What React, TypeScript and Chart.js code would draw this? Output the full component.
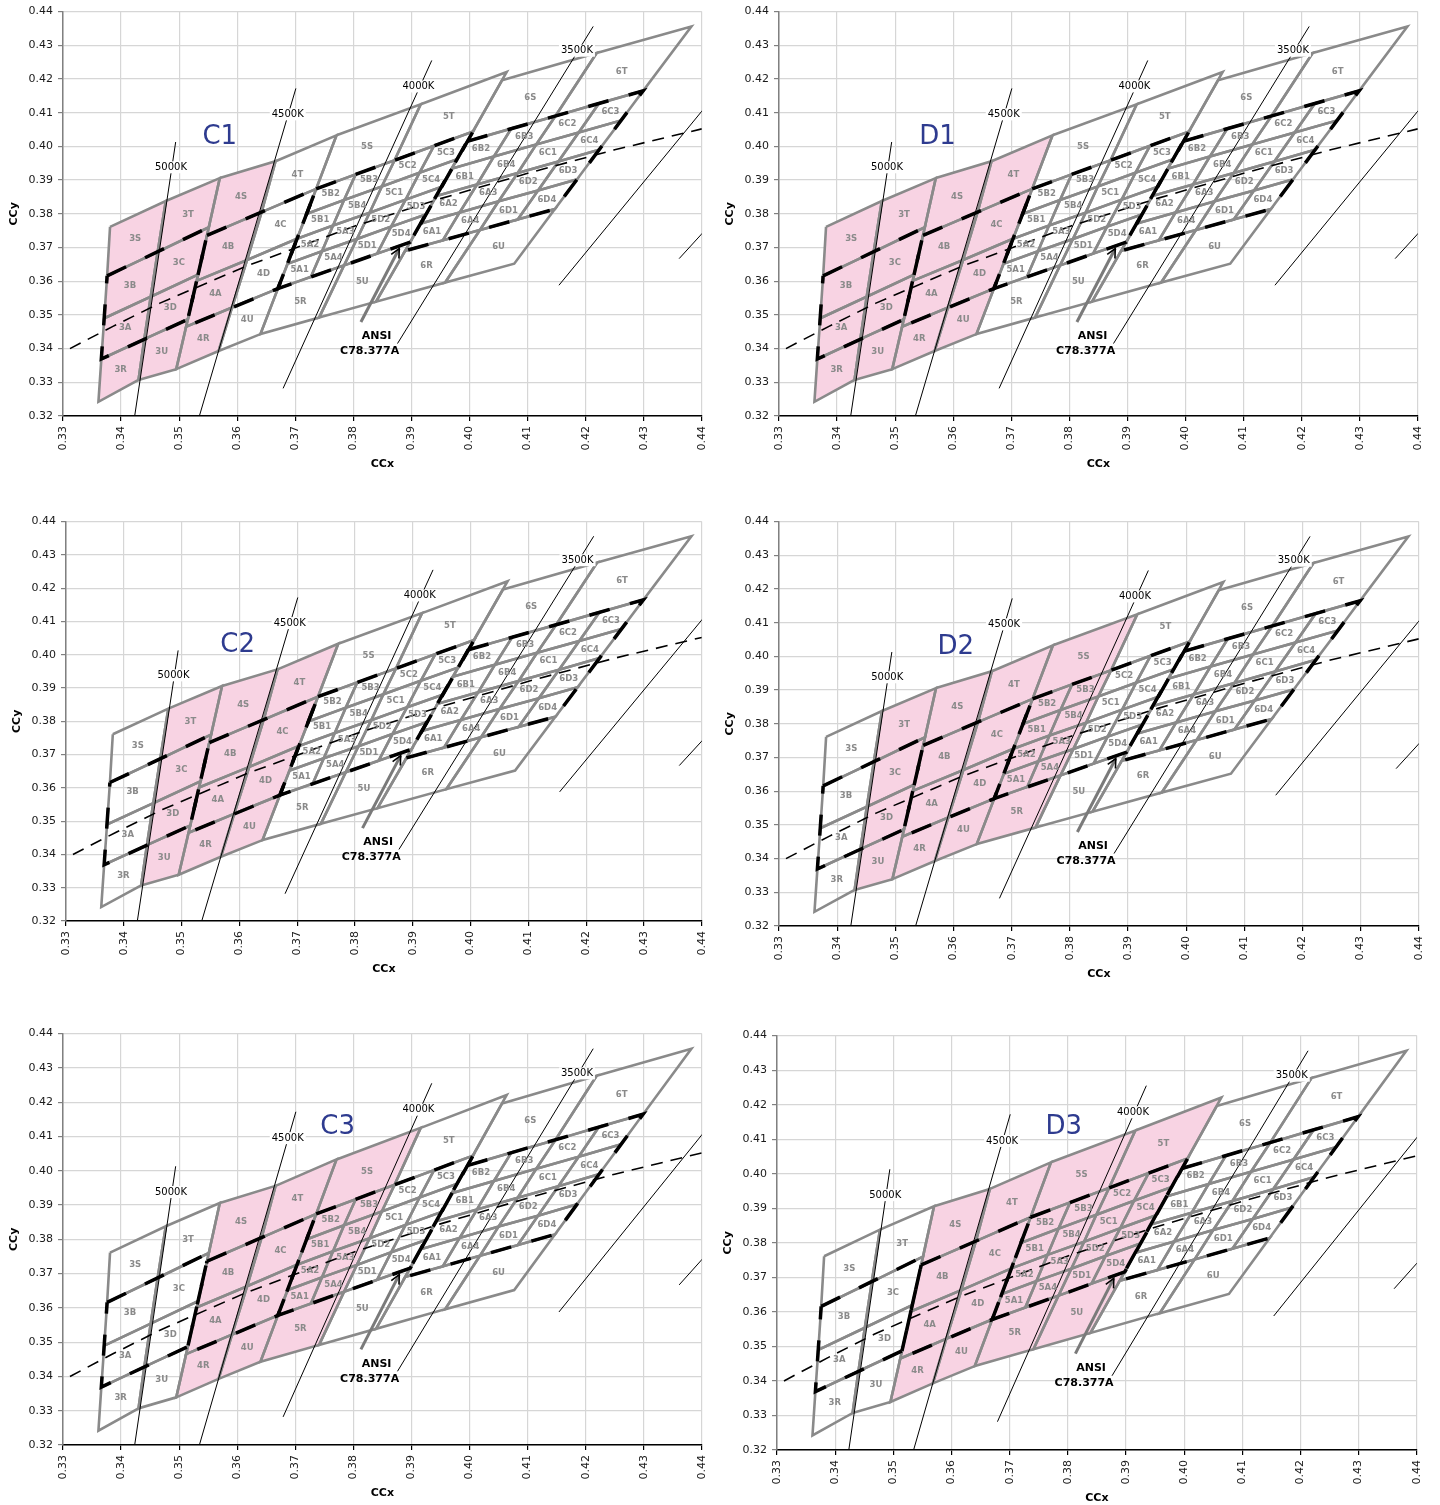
import React, { useEffect, useRef } from 'react';
import { Chart, registerables } from 'chart.js';

Chart.register(...registerables);

type P = [number, number];

const X_RANGE: P = [0.33, 0.44];
const Y_RANGE: P = [0.32, 0.44];
const TICK_STEP = 0.01;

// 5000K family (group 3): rows top->bottom, cols left->right
const G3_GRID: P[][] = [
  [[0.3381, 0.3761], [0.3477, 0.3838], [0.3570, 0.3906]],
  [[0.3376, 0.3616], [0.3463, 0.3687], [0.3551, 0.3760]],
  [[0.3371, 0.3490], [0.3451, 0.3554], [0.3533, 0.3620]],
  [[0.3366, 0.3369], [0.3440, 0.3428], [0.3515, 0.3487]],
  [[0.3361, 0.3242], [0.3430, 0.3307], [0.3495, 0.3339]],
];
const G3_LABELS = [['3S', '3T'], ['3B', '3C'], ['3A', '3D'], ['3R', '3U']];

// 4500K family (group 4)
const G4_GRID: P[][] = [
  [[0.3570, 0.3906], [0.3666, 0.3956], [0.3771, 0.4033]],
  [[0.3548, 0.3736], [0.3642, 0.3805], [0.3736, 0.3874]],
  [[0.3530, 0.3601], [0.3617, 0.3663], [0.3703, 0.3726]],
  [[0.3512, 0.3465], [0.3591, 0.3522], [0.3670, 0.3578]],
  [[0.3495, 0.3339], [0.3568, 0.3393], [0.3640, 0.3443]],
];
const G4_LABELS = [['4S', '4T'], ['4B', '4C'], ['4A', '4D'], ['4R', '4U']];

// 4000K family (group 5)
const G5_GRID: P[][] = [
  [[0.3736, 0.3874], [0.3804, 0.3917], [0.3871, 0.3959], [0.3939, 0.4002], [0.4006, 0.4044]],
  [[0.3720, 0.3800], [0.3784, 0.3841], [0.3849, 0.3881], [0.3914, 0.3922], [0.3979, 0.3962]],
  [[0.3703, 0.3726], [0.3765, 0.3765], [0.3828, 0.3803], [0.3890, 0.3842], [0.3952, 0.3880]],
  [[0.3687, 0.3652], [0.3746, 0.3689], [0.3806, 0.3725], [0.3865, 0.3762], [0.3925, 0.3798]],
  [[0.3670, 0.3578], [0.3727, 0.3613], [0.3784, 0.3647], [0.3841, 0.3682], [0.3898, 0.3716]],
];
const G5_LABELS = [
  ['5B2', '5B3', '5C2', '5C3'],
  ['5B1', '5B4', '5C1', '5C4'],
  ['5A2', '5A3', '5D2', '5D3'],
  ['5A1', '5A4', '5D1', '5D4'],
];
const G5_TOP: P[] = [[0.3771, 0.4033], [0.3916, 0.4125], [0.4064, 0.4221]];
const G5_BOTTOM: P[] = [[0.3640, 0.3443], [0.3741, 0.3492], [0.3839, 0.3539]];
const G5_OUTER_LABELS = [['5S', '5T'], ['5R', '5U']];

// 3500K family (group 6)
const G6_GRID: P[][] = [
  [[0.3996, 0.4015], [0.4072, 0.4053], [0.4148, 0.4090], [0.4223, 0.4128], [0.4299, 0.4165]],
  [[0.3969, 0.3934], [0.4042, 0.3970], [0.4115, 0.4006], [0.4188, 0.4041], [0.4261, 0.4077]],
  [[0.3943, 0.3853], [0.4013, 0.3887], [0.4083, 0.3921], [0.4153, 0.3955], [0.4223, 0.3990]],
  [[0.3916, 0.3771], [0.3983, 0.3804], [0.4050, 0.3837], [0.4118, 0.3869], [0.4185, 0.3902]],
  [[0.3889, 0.3690], [0.3954, 0.3721], [0.4018, 0.3752], [0.4083, 0.3783], [0.4147, 0.3814]],
];
const G6_LABELS = [
  ['6B2', '6B3', '6C2', '6C3'],
  ['6B1', '6B4', '6C1', '6C4'],
  ['6A2', '6A3', '6D2', '6D3'],
  ['6A1', '6A4', '6D1', '6D4'],
];
const G6_TOP: P[] = [[0.4056, 0.4196], [0.4219, 0.4277], [0.4382, 0.4356]];
const G6_BOTTOM: P[] = [[0.3839, 0.3539], [0.3958, 0.3596], [0.4077, 0.3652]];
const G6_OUTER_LABELS = [['6S', '6T'], ['6R', '6U']];

// ANSI C78.377A quadrangles
const ANSI_5000K: P[] = [[0.3376, 0.3616], [0.3551, 0.3760], [0.3515, 0.3487], [0.3366, 0.3369]];
const ANSI_4500K: P[] = [[0.3548, 0.3736], [0.3736, 0.3874], [0.3670, 0.3578], [0.3512, 0.3465]];
const ANSI_4000K: P[] = [[0.3736, 0.3874], [0.4006, 0.4044], [0.3898, 0.3716], [0.3670, 0.3578]];
const ANSI_3500K: P[] = [[0.3996, 0.4015], [0.4299, 0.4165], [0.4147, 0.3814], [0.3889, 0.3690]];

// black body locus (dashed)
const LOCUS: P[] = [
  [0.3312, 0.3400], [0.3386, 0.3466], [0.3467, 0.3535], [0.3616, 0.3645],
  [0.3805, 0.3765], [0.3950, 0.3845], [0.4110, 0.3925], [0.4250, 0.3990], [0.4400, 0.4052],
];

// isotherm lines
const ISO_5000K: P[] = [[0.3423, 0.3195], [0.3494, 0.4013]];
const ISO_4500K: P[] = [[0.3534, 0.3195], [0.3701, 0.4172]];
const ISO_4000K: P[] = [[0.3679, 0.3282], [0.3935, 0.4255]];
const ISO_3500K: P[] = [[0.3876, 0.3415], [0.4213, 0.4356]];
const ISO_3000K: P[] = [[0.4154, 0.3588], [0.4405, 0.4115]];
const ISO_2700K: P[] = [[0.4361, 0.3667], [0.4405, 0.3750]];
const ISO_LABELS = ['5000K', '4500K', '4000K', '3500K'];
const ISO_LABEL_AT: P[] = [[0.3486, 0.3938], [0.3687, 0.4095], [0.3912, 0.4178], [0.4185, 0.4284]];

const ANSI_ARROW: P[] = [[0.3813, 0.3479], [0.3879, 0.3697]];
const ANSI_TEXT = ['ANSI', 'C78.377A'];
const ANSI_TEXT_AT: P[] = [[0.3840, 0.3437], [0.3828, 0.3393]];

const PANEL_TITLES = ['C1', 'D1', 'C2', 'D2', 'C3', 'D3'];
const PANEL_TITLE_AT: P[] = [
  [0.3570, 0.4027], [0.3573, 0.4027], [0.3597, 0.4028],
  [0.3604, 0.4027], [0.3773, 0.4126], [0.3793, 0.4134],
];

const ALL4 = ['4S', '4T', '4B', '4C', '4A', '4D', '4R', '4U'];
const LEFT5 = ['5S', '5R', '5B2', '5B3', '5B1', '5B4', '5A2', '5A3', '5A1', '5A4'];
const RIGHT5 = ['5T', '5U', '5C2', '5C3', '5C1', '5C4', '5D2', '5D3', '5D1', '5D4'];
const RIGHT3 = ['3T', '3C', '3D', '3U'];
const LEFT3 = ['3S', '3B', '3A', '3R'];
const PANEL_HIGHLIGHTS: string[][] = [
  [...LEFT3, ...RIGHT3, '4S', '4B', '4A', '4R'],
  [...LEFT3, ...RIGHT3, ...ALL4],
  [...RIGHT3, ...ALL4],
  [...RIGHT3, ...ALL4, ...LEFT5],
  [...ALL4, ...LEFT5],
  [...ALL4, ...LEFT5, ...RIGHT5],
];

// plot-area boxes on the page: left, top, width, height
const PANEL_BOXES = [
  [63, 11, 640, 405], [779, 11, 640, 405],
  [66, 521, 637, 400], [779, 521, 641, 405],
  [63, 1033, 640, 412], [777, 1035, 641, 415],
];

const Y_AXIS_W = 63;
const X_AXIS_H = 62;
const PAD_TOP = 11;
const PAD_RIGHT = 17;

type Bin = { name: string; pts: P[] };

function buildBins(): Bin[] {
  const bins: Bin[] = [];
  const fromGrid = (grid: P[][], labels: string[][]) => {
    for (let r = 0; r < labels.length; r++)
      for (let c = 0; c < labels[r].length; c++)
        bins.push({ name: labels[r][c], pts: [grid[r][c], grid[r][c + 1], grid[r + 1][c + 1], grid[r + 1][c]] });
  };
  const pick = (row: P[]) => [row[0], row[2], row[4]];
  fromGrid(G3_GRID, G3_LABELS);
  fromGrid(G4_GRID, G4_LABELS);
  fromGrid([G5_TOP, pick(G5_GRID[0])], [G5_OUTER_LABELS[0]]);
  fromGrid(G5_GRID, G5_LABELS);
  fromGrid([pick(G5_GRID[4]), G5_BOTTOM], [G5_OUTER_LABELS[1]]);
  fromGrid([G6_TOP, pick(G6_GRID[0])], [G6_OUTER_LABELS[0]]);
  fromGrid(G6_GRID, G6_LABELS);
  fromGrid([pick(G6_GRID[4]), G6_BOTTOM], [G6_OUTER_LABELS[1]]);
  return bins;
}

const BINS = buildBins();
const FONT = '"DejaVu Sans", Verdana, sans-serif';

const toXY = (pts: P[]) => pts.map(([x, y]) => ({ x, y }));
const closed = (pts: P[]) => toXY([...pts, pts[0]]);

const overlayPlugin = {
  id: 'overlay',
  afterDatasetsDraw(chart: any, _args: any, opts: any) {
    const { ctx, chartArea, scales } = chart;
    const px = (v: number) => scales.x.getPixelForValue(v);
    const py = (v: number) => scales.y.getPixelForValue(v);
    ctx.save();
    ctx.textAlign = 'center';
    ctx.textBaseline = 'middle';

    // bin labels
    ctx.font = `bold 8.5px ${FONT}`;
    ctx.fillStyle = '#8a8a8a';
    BINS.forEach((b) => {
      const cx = b.pts.reduce((s, p) => s + p[0], 0) / b.pts.length;
      const cy = b.pts.reduce((s, p) => s + p[1], 0) / b.pts.length;
      ctx.fillText(b.name, px(cx), py(cy));
    });

    // arrow head
    const [a0, a1] = ANSI_ARROW;
    const x0 = px(a0[0]), y0 = py(a0[1]), x1 = px(a1[0]), y1 = py(a1[1]);
    const ang = Math.atan2(y1 - y0, x1 - x0);
    ctx.strokeStyle = '#000';
    ctx.lineWidth = 1.6;
    ctx.beginPath();
    ctx.moveTo(x1 - 10 * Math.cos(ang - 0.45), y1 - 10 * Math.sin(ang - 0.45));
    ctx.lineTo(x1, y1);
    ctx.lineTo(x1 - 10 * Math.cos(ang + 0.45), y1 - 10 * Math.sin(ang + 0.45));
    ctx.stroke();

    // isotherm labels with white box
    ctx.font = `10px ${FONT}`;
    ISO_LABELS.forEach((t, i) => {
      const x = px(ISO_LABEL_AT[i][0]), y = py(ISO_LABEL_AT[i][1]);
      const w = ctx.measureText(t).width;
      ctx.fillStyle = '#fff';
      ctx.fillRect(x - w / 2 - 2, y - 6, w + 4, 12);
      ctx.fillStyle = '#000';
      ctx.fillText(t, x, y);
    });

    // ANSI text
    ctx.font = `bold 11px ${FONT}`;
    ctx.fillStyle = '#000';
    ANSI_TEXT.forEach((t, i) => ctx.fillText(t, px(ANSI_TEXT_AT[i][0]), py(ANSI_TEXT_AT[i][1])));

    // panel title
    ctx.font = `26px ${FONT}`;
    ctx.fillStyle = '#2E3B8F';
    ctx.fillText(opts.title, px(opts.titleAt[0]), py(opts.titleAt[1]));

    // axis titles
    ctx.font = `bold 11px ${FONT}`;
    ctx.fillStyle = '#000';
    ctx.fillText('CCx', (chartArea.left + chartArea.right) / 2, chartArea.bottom + 48);
    ctx.translate(chartArea.left - 49, (chartArea.top + chartArea.bottom) / 2);
    ctx.rotate(-Math.PI / 2);
    ctx.fillText('CCy', 0, 0);
    ctx.restore();
  },
};

function makeConfig(index: number): any {
  const hl = new Set(PANEL_HIGHLIGHTS[index]);
  const datasets: any[] = [];
  BINS.filter((b) => hl.has(b.name)).forEach((b) =>
    datasets.push({
      data: closed(b.pts),
      borderColor: 'rgba(0,0,0,0)',
      borderWidth: 0,
      backgroundColor: '#F8D3E3',
      fill: 'shape',
      order: 100,
    })
  );
  BINS.forEach((b) =>
    datasets.push({
      data: closed(b.pts),
      borderColor: '#8a8a8a',
      borderWidth: 2.6,
      borderJoinStyle: 'miter',
      fill: false,
      order: 50,
    })
  );
  [ANSI_5000K, ANSI_4500K, ANSI_4000K, ANSI_3500K].forEach((q) =>
    datasets.push({
      data: closed(q),
      borderColor: '#000',
      borderWidth: 3.5,
      borderDash: [21, 21],
      borderCapStyle: 'butt',
      fill: false,
      order: 40,
    })
  );
  [ISO_5000K, ISO_4500K, ISO_4000K, ISO_3500K, ISO_3000K, ISO_2700K].forEach((l) =>
    datasets.push({ data: toXY(l), borderColor: '#000', borderWidth: 1, fill: false, order: 30 })
  );
  datasets.push({
    data: toXY(LOCUS),
    borderColor: '#000',
    borderWidth: 1.6,
    borderDash: [12, 8],
    fill: false,
    order: 20,
  });
  datasets.push({ data: toXY(ANSI_ARROW), borderColor: '#7a7a7a', borderWidth: 3, fill: false, order: 10 });

  const tickFont = { family: FONT, size: 11 };
  return {
    type: 'line',
    data: { datasets },
    plugins: [overlayPlugin],
    options: {
      animation: false,
      responsive: true,
      maintainAspectRatio: false,
      events: [],
      layout: { padding: { top: PAD_TOP, right: PAD_RIGHT, left: 0, bottom: 0 } },
      elements: { point: { radius: 0, hitRadius: 0, hoverRadius: 0 }, line: { tension: 0 } },
      plugins: {
        legend: { display: false },
        tooltip: { enabled: false },
        overlay: { title: PANEL_TITLES[index], titleAt: PANEL_TITLE_AT[index] },
      },
      scales: {
        x: {
          type: 'linear',
          min: X_RANGE[0],
          max: X_RANGE[1],
          afterFit: (s: any) => { s.height = X_AXIS_H; },
          ticks: {
            stepSize: TICK_STEP,
            autoSkip: false,
            minRotation: 90,
            maxRotation: 90,
            padding: 5,
            font: tickFont,
            color: '#1a1a1a',
            callback: (v: any) => Number(v).toFixed(2),
          },
          grid: { color: '#d6d6d6', lineWidth: 1.2, tickLength: 5, tickColor: '#000' },
          border: { color: '#000', width: 1.5 },
        },
        y: {
          type: 'linear',
          min: Y_RANGE[0],
          max: Y_RANGE[1],
          afterFit: (s: any) => { s.width = Y_AXIS_W; },
          ticks: {
            stepSize: TICK_STEP,
            autoSkip: false,
            padding: 5,
            font: tickFont,
            color: '#1a1a1a',
            callback: (v: any) => Number(v).toFixed(2),
          },
          grid: { color: '#d6d6d6', lineWidth: 1.2, tickLength: 5, tickColor: '#808080' },
          border: { color: '#808080', width: 1.5 },
        },
      },
    },
  };
}

function Panel({ index }: { index: number }) {
  const ref = useRef<HTMLCanvasElement>(null);
  useEffect(() => {
    const chart = new Chart(ref.current as HTMLCanvasElement, makeConfig(index));
    return () => chart.destroy();
  }, [index]);
  const [l, t, w, h] = PANEL_BOXES[index];
  return (
    <div
      style={{
        position: 'absolute',
        left: l - Y_AXIS_W,
        top: t - PAD_TOP,
        width: Y_AXIS_W + w + PAD_RIGHT,
        height: PAD_TOP + h + X_AXIS_H,
      }}
    >
      <canvas ref={ref} />
    </div>
  );
}

export default function App() {
  return (
    <div
      style={{
        position: 'absolute',
        left: 0,
        top: 0,
        width: 1440,
        height: 1505,
        overflow: 'hidden',
        background: '#fff',
      }}
    >
      {PANEL_TITLES.map((_, i) => (
        <Panel key={i} index={i} />
      ))}
    </div>
  );
}
